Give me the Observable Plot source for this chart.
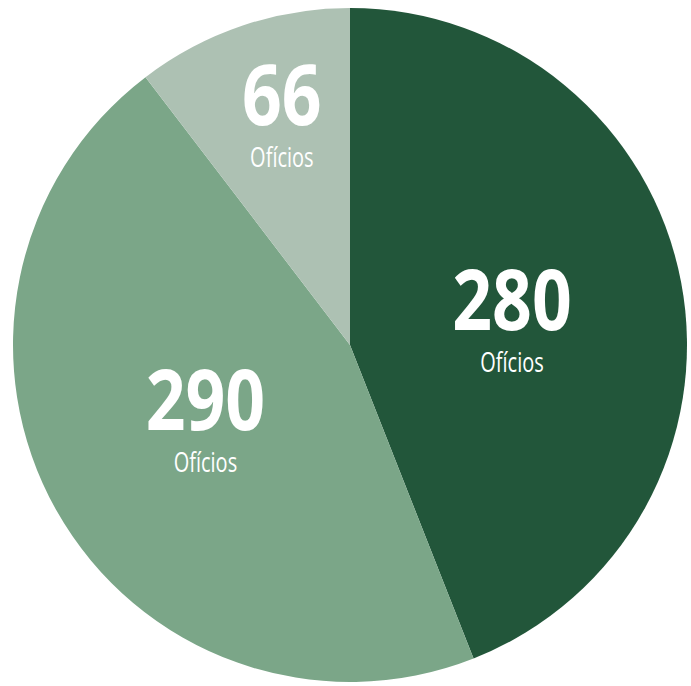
<!DOCTYPE html>
<html>
<head>
<meta charset="utf-8">
<script src="https://cdn.jsdelivr.net/npm/d3@7"></script>
<script src="https://cdn.jsdelivr.net/npm/@observablehq/plot@0.6"></script>
<style>
  html, body { margin: 0; padding: 0; background: #ffffff; }
  #chart svg { display: block; }
</style>
</head>
<body>
<div id="chart"></div>
<script>
const categories = ["A", "B", "C"];
const values = [280, 290, 66];
const unitLabel = "Ofícios";
const colors = ["#22563a", "#7ba688", "#adc1b3"];

const pie = d3.pie().sort(null).value(d => d.value);
const arcs = pie(categories.map((c, i) => ({category: c, value: values[i], color: colors[i]})));

// label block centres in data (unit circle) coordinates
const labels = arcs.map(a => {
  const span = a.endAngle - a.startAngle;
  const mid = (a.startAngle + a.endAngle) / 2 + 0.035;
  const r = span < Math.PI / 3 ? 0.71 : 0.485;
  return {value: a.data.value, x: r * Math.sin(mid), y: r * Math.cos(mid)};
});

const font = "'Open Sans', 'DejaVu Sans', sans-serif";

function slices(index, scales) {
  const g = d3.create("svg:g");
  const cx = scales.x(0), cy = scales.y(0);
  const R = scales.x(1) - scales.x(0);
  const arcGen = d3.arc().innerRadius(0).outerRadius(R);
  g.selectAll("path")
    .data(arcs)
    .join("path")
    .attr("transform", `translate(${cx},${cy})`)
    .attr("d", arcGen)
    .attr("fill", d => d.data.color);
  return g.node();
}

const chart = Plot.plot({
  width: 691,
  height: 686,
  margin: 0,
  x: {domain: [-1, 1], range: [13, 687], axis: null},
  y: {domain: [-1, 1], range: [682, 8], axis: null},
  marks: [
    slices,
    Plot.text(labels, {
      x: "x", y: "y", text: d => String(d.value),
      fontSize: 85, fill: "white", fontWeight: "bold",
      fontFamily: font, textAnchor: "middle",
      lineAnchor: "bottom", dy: 9, className: "num"
    }),
    Plot.text(labels, {
      x: "x", y: "y", text: () => unitLabel,
      fontSize: 27, fill: "white", fontFamily: font,
      textAnchor: "middle", lineAnchor: "bottom", dy: 51, className: "unit"
    })
  ]
});
document.getElementById("chart").appendChild(chart);

// condense the label glyphs horizontally (reference uses a condensed face)
d3.select(chart).selectAll(".num text").each(function() {
  const t = this.getAttribute("transform") || "";
  this.setAttribute("transform", t + " scale(0.82,1)");
});
d3.select(chart).selectAll(".unit text").each(function() {
  const t = this.getAttribute("transform") || "";
  this.setAttribute("transform", t + " scale(0.74,1)");
});
</script>
</body>
</html>
